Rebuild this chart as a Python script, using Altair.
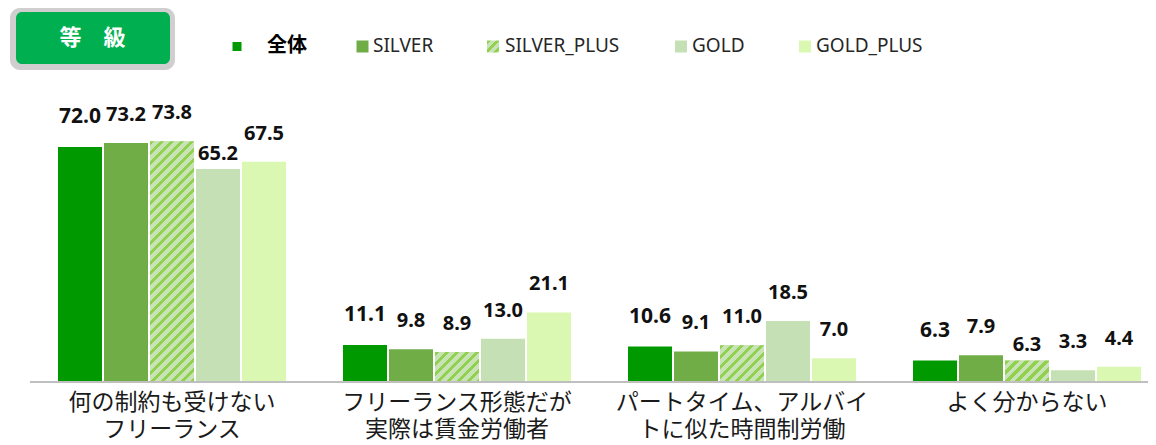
import altair as alt
import pandas as pd

# ---------------- data ----------------
CATEGORIES = [
    "何の制約も受けない\nフリーランス",
    "フリーランス形態だが\n実際は賃金労働者",
    "パートタイム、アルバイ\nトに似た時間制労働",
    "よく分からない",
]
SERIES = ["全体", "SILVER", "SILVER_PLUS", "GOLD", "GOLD_PLUS"]
V_ALL = [72.0, 11.1, 10.6, 6.3]
V_SILVER = [73.2, 9.8, 9.1, 7.9]
V_SILVER_PLUS = [73.8, 8.9, 11.0, 6.3]
V_GOLD = [65.2, 13.0, 18.5, 3.3]
V_GOLD_PLUS = [67.5, 21.1, 7.0, 4.4]
TITLE_TEXT = "等　級"

# ---------------- styles / layout ----------------
COLORS = ["#009900", "#70ad47", "#c5e0b4", "#c5e0b4", "#dbf8b3"]
HATCH_BG = "#c8e3b6"
HATCH_FG = "#92d050"
W, H = 1140, 437
PX_PER_UNIT = 3.25          # vertical pixels per percent
BASE_Y = 373                # pixel row of the zero line
GROUP_PX = 285              # pixels per category group
GROUP_X0 = 21.5             # left edge of first group
BAR_STEP = 46
BAR_W = 44
CJK_FONT = "DejaVu Sans, Noto Sans CJK JP"

X_DOMAIN = [-GROUP_X0 / GROUP_PX, (W - GROUP_X0) / GROUP_PX]
Y_DOMAIN = [-(H - BASE_Y) / PX_PER_UNIT, BASE_Y / PX_PER_UNIT]

LABEL_OFF_DEFAULT = {"全体": 30}
LABEL_OFF_SPECIAL = {(0, "GOLD"): 15, (3, "SILVER_PLUS"): 16}

LEGEND_SWATCH_X = [229, 354.5, 485, 673, 797]
LEGEND_SWATCH_S = [9, 12, 12, 12, 12]
LEGEND_TEXT_X = [259, 365, 497, 684, 808]
LEGEND_Y = 38.5

VALUES = [V_ALL, V_SILVER, V_SILVER_PLUS, V_GOLD, V_GOLD_PLUS]
rows = []
for si, s in enumerate(SERIES):
    for ci, c in enumerate(CATEGORIES):
        v = VALUES[si][ci]
        off = LABEL_OFF_SPECIAL.get((ci, s), LABEL_OFF_DEFAULT.get(s, 28))
        rows.append({
            "category": c, "series": s, "value": v, "ci": ci,
            "xpos": ci + 0.5 + (si - (len(SERIES) - 1) / 2) * BAR_STEP / GROUP_PX,
            "lab_y": v + off / PX_PER_UNIT,
        })
df = pd.DataFrame(rows)
cat_df = pd.DataFrame({"category": CATEGORIES,
                       "xpos": [i + 0.5 for i in range(len(CATEGORIES))]})

x_scale = alt.Scale(domain=X_DOMAIN, nice=False, zero=False, padding=0)
y_scale = alt.Scale(domain=Y_DOMAIN, nice=False, zero=False, padding=0)
c_scale = alt.Scale(domain=SERIES, range=COLORS)

X = alt.X("xpos:Q", scale=x_scale, axis=None)


def hatch(w, h, period=10.0, frac=0.45):
    k = (w + h) / (w * w + h * h)
    P = period / (w + h)
    stops = []
    t = 0.0
    while t < 1:
        t0 = round(t, 5)
        t1 = round(min(t + frac * P, 1), 5)
        t2 = round(min(t + P, 1), 5)
        stops += [
            alt.GradientStop(offset=t0, color=HATCH_FG),
            alt.GradientStop(offset=t1, color=HATCH_FG),
            alt.GradientStop(offset=t1, color=HATCH_BG),
            alt.GradientStop(offset=t2, color=HATCH_BG),
        ]
        t += P
    return alt.LinearGradient(gradient="linear", stops=stops,
                              x1=0, y1=0, x2=round(k * w, 5), y2=round(k * h, 5))


base = alt.Chart(df)

bars = base.mark_bar(width=BAR_W).encode(
    x=X,
    y=alt.Y("value:Q", scale=y_scale, axis=None),
    y2=alt.datum(0),
    color=alt.Color("series:N", scale=c_scale, legend=None),
)

hatch_layers = []
for ci, c in enumerate(CATEGORIES):
    v = V_SILVER_PLUS[ci]
    hatch_layers.append(
        base.transform_filter(
            (alt.datum.series == "SILVER_PLUS") & (alt.datum.ci == ci)
        ).mark_bar(width=BAR_W, fill=hatch(BAR_W, v * PX_PER_UNIT)).encode(
            x=X,
            y=alt.Y("value:Q", scale=y_scale, axis=None),
            y2=alt.datum(0),
        )
    )

labels = base.mark_text(font="Noto Sans", fontWeight="bold", baseline="middle",
                        align="center", color="#111111").encode(
    x=X,
    y=alt.Y("lab_y:Q", scale=y_scale, axis=None),
    text=alt.Text("value:Q", format=".1f"),
    size=alt.condition(alt.datum.series == "全体", alt.value(21), alt.value(20)),
)

baseline = alt.Chart(pd.DataFrame({"v": [0]})).mark_rule(
    color="#bfbfbf", strokeWidth=2, yOffset=1).encode(
    x=alt.value(22), x2=alt.value(W),
    y=alt.Y("v:Q", scale=y_scale, axis=None),
)

cat_labels = alt.Chart(cat_df).mark_text(
    lineBreak="\n", lineHeight=27, fontSize=23, font=CJK_FONT,
    baseline="top", align="center", color="#1a1a1a",
).encode(x=X, y=alt.value(384), text="category:N")

one = alt.Data(values=[{"k": 1}])
title_outer = alt.Chart(one).mark_rect(fill="#d0cece", cornerRadius=10).encode(
    x=alt.value(2), x2=alt.value(167), y=alt.value(0), y2=alt.value(62))
title_inner = alt.Chart(one).mark_rect(fill="#00b050", cornerRadius=6).encode(
    x=alt.value(8), x2=alt.value(162), y=alt.value(4), y2=alt.value(56))
title_txt = alt.Chart(one).mark_text(
    text=TITLE_TEXT, font="Noto Sans CJK JP", fontWeight="bold", fontSize=22,
    color="white", align="center", baseline="middle").encode(
    x=alt.value(84.5), y=alt.value(29.5))

legend_layers = []
for i, s in enumerate(SERIES):
    sx, ss = LEGEND_SWATCH_X[i], LEGEND_SWATCH_S[i]
    fill = hatch(ss, ss, period=9.0) if s == "SILVER_PLUS" else COLORS[i]
    legend_layers.append(
        alt.Chart(one).mark_rect(fill=fill).encode(
            x=alt.value(sx - ss / 2), x2=alt.value(sx + ss / 2),
            y=alt.value(LEGEND_Y - ss / 2), y2=alt.value(LEGEND_Y + ss / 2))
    )
    is_all = s == "全体"
    legend_layers.append(
        alt.Chart(one).mark_text(
            text=s, font="Noto Sans CJK JP" if is_all else "Noto Sans",
            fontWeight="bold" if is_all else "normal",
            fontSize=20 if is_all else 19, color="#000000" if is_all else "#262626",
            align="left", baseline="middle").encode(
            x=alt.value(LEGEND_TEXT_X[i]), y=alt.value(LEGEND_Y - 1))
    )

chart = alt.layer(
    bars, *hatch_layers, baseline, labels, cat_labels,
    title_outer, title_inner, title_txt, *legend_layers,
).properties(
    width=W, height=H, padding=0,
    autosize=alt.AutoSizeParams(type="none"),
).configure_view(stroke=None)

chart.save("out.html", embed_options={"renderer": "svg", "actions": False})
